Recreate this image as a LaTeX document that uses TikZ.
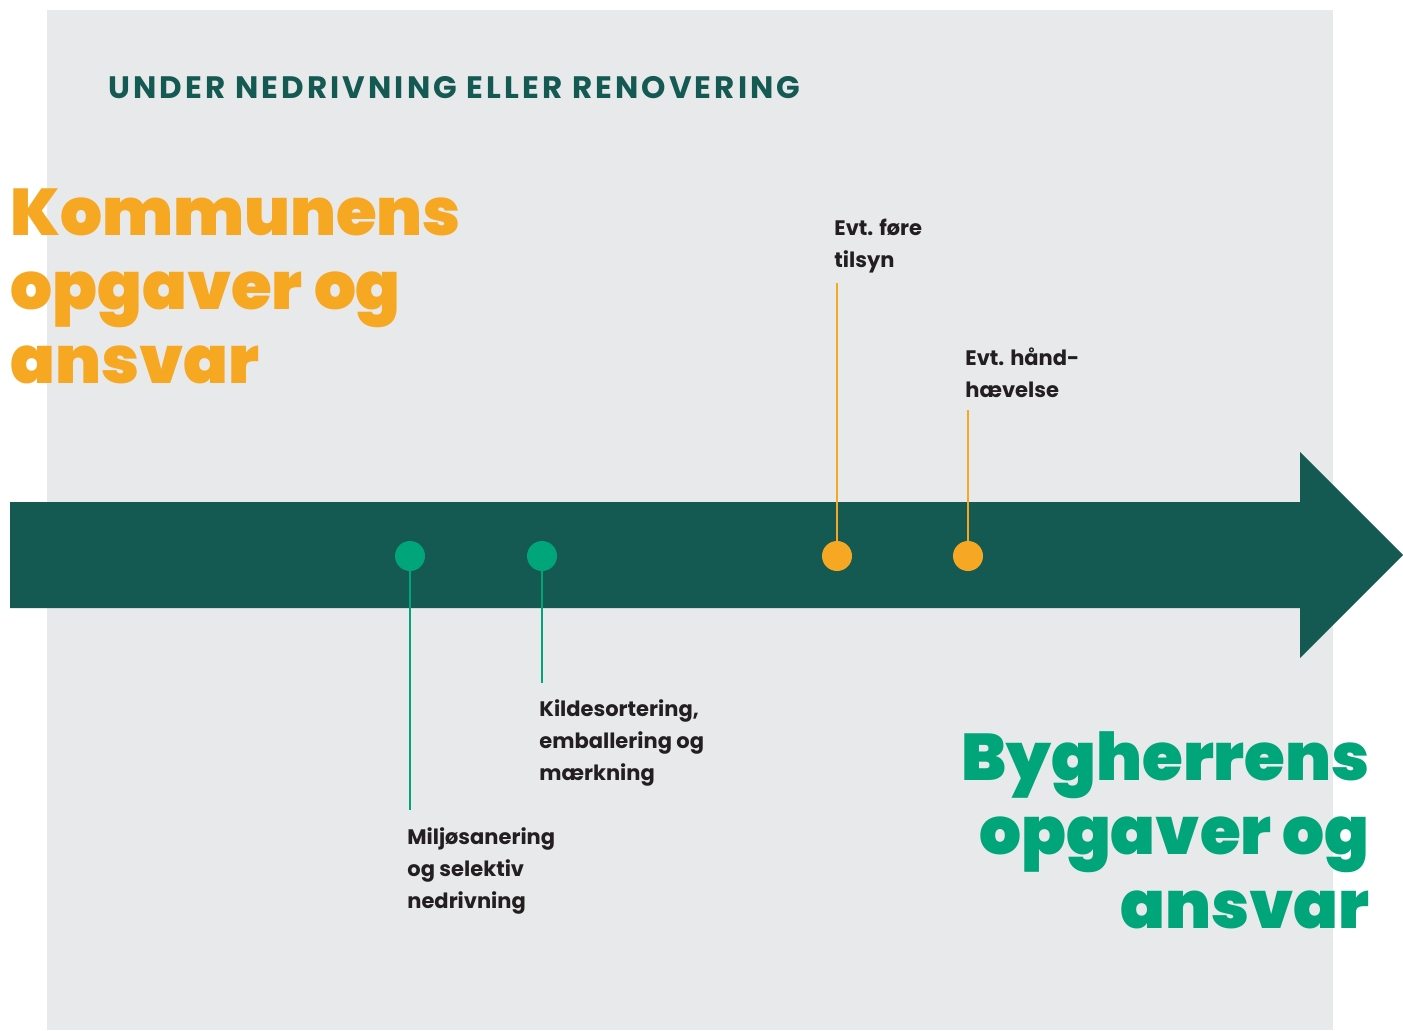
\documentclass[tikz,border=0pt]{standalone}
\usepackage{fontspec}
\setmainfont{Poppins}
\IfFontExistsTF{Poppins Black}
  {\newfontfamily\heavyfont{Poppins Black}}
  {\newfontfamily\heavyfont{Poppins}[FakeBold=2]}
\usetikzlibrary{positioning}

\definecolor{bggray}{HTML}{E8E9EB}
\definecolor{darkteal}{HTML}{145A52}
\definecolor{mintgreen}{HTML}{00A57A}
\definecolor{sunorange}{HTML}{F7A823}
\definecolor{inkdark}{HTML}{231F20}

\tikzset{
  dot/.style={circle, inner sep=0pt, minimum size=15pt},
  greendot/.style={dot, fill=mintgreen},
  orangedot/.style={dot, fill=sunorange},
  stepline/.style={line width=0.8pt},
  steplabel/.style={inner sep=0pt, anchor=north west, align=left, text=inkdark,
    font=\fontsize{10.5}{16}\selectfont\bfseries},
  bigtext/.style={inner sep=0pt, font=\fontsize{33}{37}\heavyfont}
}

\begin{document}
\begin{tikzpicture}[x=0.5pt, y=-0.5pt]
\useasboundingbox (0,0) rectangle (1403,1030);

% background
\fill[bggray] (47,10) rectangle (1333,1030);

% timeline arrow
\fill[darkteal] (10,502) -- (1300,502) -- (1300,452) -- (1403,555)
  -- (1300,658) -- (1300,608) -- (10,608) -- cycle;

\node[anchor=base west, inner sep=0pt, text=darkteal,
  font=\fontsize{15.5}{18}\selectfont\bfseries\addfontfeature{LetterSpace=10}] (title) at (108,98)
  {UNDER NEDRIVNING ELLER RENOVERING};

\node[bigtext, anchor=north west, align=left, text=sunorange] (kommune) at (10,188)
  {Kommunens\\opgaver og\\ansvar};
\node[bigtext, anchor=north east, align=right, text=mintgreen] (bygherre) at (1370,731)
  {Bygherrens\\opgaver og\\ansvar};

% steps
\node[greendot] (s1) at (410,556) {};
\node[greendot] (s2) at (542,556) {};
\node[orangedot] (s3) at (837,556) {};
\node[orangedot] (s4) at (968,556) {};

\coordinate (e1) at (410,810);
\coordinate (e2) at (542,683);
\coordinate (e3) at (837,283);
\coordinate (e4) at (968,410);

\draw[stepline, mintgreen] (s1.south) -- (e1);
\draw[stepline, mintgreen] (s2.south) -- (e2);
\draw[stepline, sunorange] (s3.north) -- (e3);
\draw[stepline, sunorange] (s4.north) -- (e4);

\node[steplabel] (l1) at (407,827) {Miljøsanering\\og selektiv\\nedrivning};
\node[steplabel] (l2) at (539,699) {Kildesortering,\\emballering og\\mærkning};
\node[steplabel] (l3) at (834,219) {Evt. føre\\tilsyn};
\node[steplabel] (l4) at (965,347) {Evt. hånd-\\hævelse};
\end{tikzpicture}
\end{document}
